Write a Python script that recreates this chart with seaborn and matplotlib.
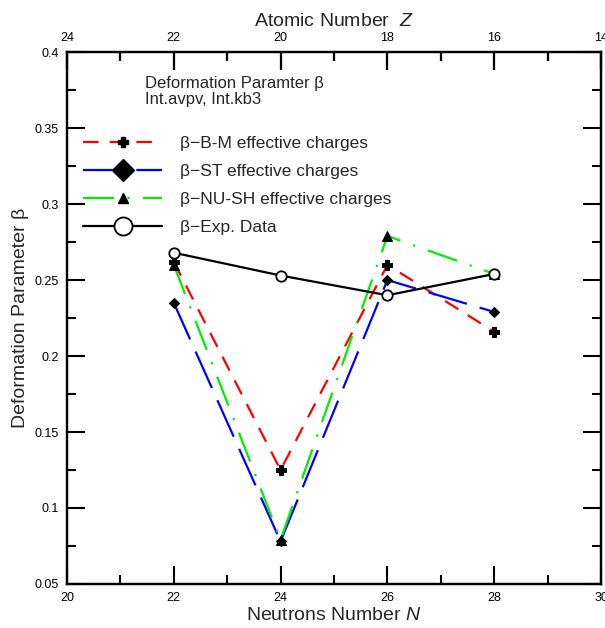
import matplotlib
matplotlib.use("Agg")
import matplotlib.pyplot as plt
from matplotlib.lines import Line2D
from matplotlib.markers import TICKDOWN
from matplotlib.ticker import MultipleLocator
import seaborn as sns
import pandas as pd

# ---- data ----
neutrons = [22, 24, 26, 28]
beta_bm = [0.262, 0.125, 0.260, 0.216]
beta_st = [0.235, 0.078, 0.250, 0.229]
beta_nush = [0.260, 0.079, 0.279, 0.254]
beta_exp = [0.268, 0.253, 0.240, 0.254]
labels = ["β−B-M effective charges", "β−ST effective charges",
          "β−NU-SH effective charges", "β−Exp. Data"]

sns.set_style("white")
plt.rcParams['font.family'] = ['Liberation Sans', 'DejaVu Sans']
plt.rcParams['mathtext.fontset'] = 'custom'
plt.rcParams['mathtext.it'] = 'Liberation Sans:italic'
plt.rcParams['mathtext.rm'] = 'Liberation Sans'
plt.rcParams['xtick.color'] = 'black'
plt.rcParams['ytick.color'] = 'black'

fig = plt.figure(figsize=(6.05, 6.28), dpi=100)
ax = fig.add_axes([0.1107, 0.0701, 0.8827, 0.8469])
ax.set_xlim(20, 30)
top = ax.twiny()
top.set_xlim(44 - 20, 44 - 30)

df = pd.DataFrame({"N": neutrons, "bm": beta_bm, "st": beta_st,
                   "nush": beta_nush, "exp": beta_exp})

RED_LS = (0, (7, 5))
BLUE_LS = (0, (18, 6))
GREEN_LS = (0, (14, 6, 1, 6))

sns.lineplot(data=df, x="N", y="bm", ax=ax, color="red", lw=1.6,
             linestyle=RED_LS, marker="P", markersize=7.5,
             markerfacecolor="black", markeredgecolor="black", zorder=3)
sns.lineplot(data=df, x="N", y="st", ax=ax, color="blue", lw=1.6,
             linestyle=BLUE_LS, marker="D", markersize=5.5,
             markerfacecolor="black", markeredgecolor="black", zorder=3)
sns.lineplot(data=df, x="N", y="nush", ax=ax, color="#00ee00", lw=1.6,
             linestyle=GREEN_LS, marker="^", markersize=6.5,
             markerfacecolor="black", markeredgecolor="black", zorder=3)
sns.lineplot(data=df, x="N", y="exp", ax=ax, color="black", lw=1.6,
             marker="o", markersize=7.5, markerfacecolor="white",
             markeredgecolor="black", markeredgewidth=1.3, zorder=4)

ax.set_xlim(20, 30)
ax.set_ylim(0.05, 0.4)
ax.xaxis.set_major_locator(MultipleLocator(2))
ax.xaxis.set_minor_locator(MultipleLocator(1))
ax.yaxis.set_major_locator(MultipleLocator(0.05))
ax.yaxis.set_minor_locator(MultipleLocator(0.025))
ax.yaxis.set_major_formatter(plt.FuncFormatter(lambda v, p: f"{v:g}"))
for s in ax.spines.values():
    s.set_linewidth(1.6)
    s.set_color("black")

ax.set_xlabel("Neutrons Number $\\it{N}$", fontsize=14, labelpad=2)
ax.set_ylabel("Deformation Parameter β", fontsize=14, labelpad=4)

top.set_xlim(44 - 20, 44 - 30)
top.xaxis.set_major_locator(MultipleLocator(2))
top.xaxis.set_minor_locator(MultipleLocator(1))
top.set_xlabel("Atomic Number  $\\it{Z}$", fontsize=14, labelpad=4)
top.set_zorder(5)
top.patch.set_visible(False)

ax.text(0.147, 0.955, "Deformation Paramter β\nInt.avpv, Int.kb3",
        transform=ax.transAxes, fontsize=12, va="top", ha="left",
        linespacing=1.05)

handles = [
    Line2D([], [], color="red", lw=1.6, linestyle=RED_LS, marker="P",
           markersize=7.5, markerfacecolor="black", markeredgecolor="black"),
    Line2D([], [], color="blue", lw=1.6, linestyle=BLUE_LS, marker="D",
           markersize=11, markerfacecolor="black", markeredgecolor="black"),
    Line2D([], [], color="#00ee00", lw=1.6, linestyle=GREEN_LS,
           marker="^", markersize=6.5, markerfacecolor="black",
           markeredgecolor="black"),
    Line2D([], [], color="black", lw=1.6, marker="o", markersize=13,
           markerfacecolor="white", markeredgecolor="black",
           markeredgewidth=1.3),
]
ax.legend(handles, labels, loc="upper left", bbox_to_anchor=(0.0, 0.872),
          frameon=False, fontsize=12.5, handlelength=4.6, handletextpad=1.0,
          labelspacing=0.75, borderaxespad=0.5)

# tick styling applied last so nothing resets it
ax.tick_params(which="major", direction="in", length=13, width=1.5,
               labelsize=9, left=True, bottom=True, right=True, top=True,
               labeltop=False, labelbottom=True, pad=6)
ax.tick_params(which="minor", direction="in", length=6.5, width=1.5,
               left=True, bottom=True, right=True, top=True)
top.xaxis.set_ticks_position("top")
top.tick_params(which="major", direction="in", length=13, width=1.5,
                labelsize=9, pad=6, top=True, bottom=False, labeltop=True)
top.tick_params(which="minor", direction="in", length=6.5, width=1.5,
                top=True, bottom=False)
for s in top.spines.values():
    s.set_linewidth(1.6)
    s.set_color("black")

# reinforce the top-edge tick marks at the top axis' own locator positions
lo, hi = sorted(top.get_xlim())
major_locs = [v for v in top.xaxis.get_majorticklocs() if lo <= v <= hi]
minor_locs = [v for v in top.xaxis.get_minorticklocs()
              if lo <= v <= hi and v not in major_locs]
xtr = top.get_xaxis_transform()
top.plot(major_locs, [1.0] * len(major_locs), linestyle="none",
         marker=TICKDOWN, markersize=13, markeredgewidth=1.5,
         color="black", transform=xtr, clip_on=False, zorder=6)
top.plot(minor_locs, [1.0] * len(minor_locs), linestyle="none",
         marker=TICKDOWN, markersize=6.5, markeredgewidth=1.5,
         color="black", transform=xtr, clip_on=False, zorder=6)
top.set_xlim(44 - 20, 44 - 30)

fig.savefig("out.png", dpi=100)
